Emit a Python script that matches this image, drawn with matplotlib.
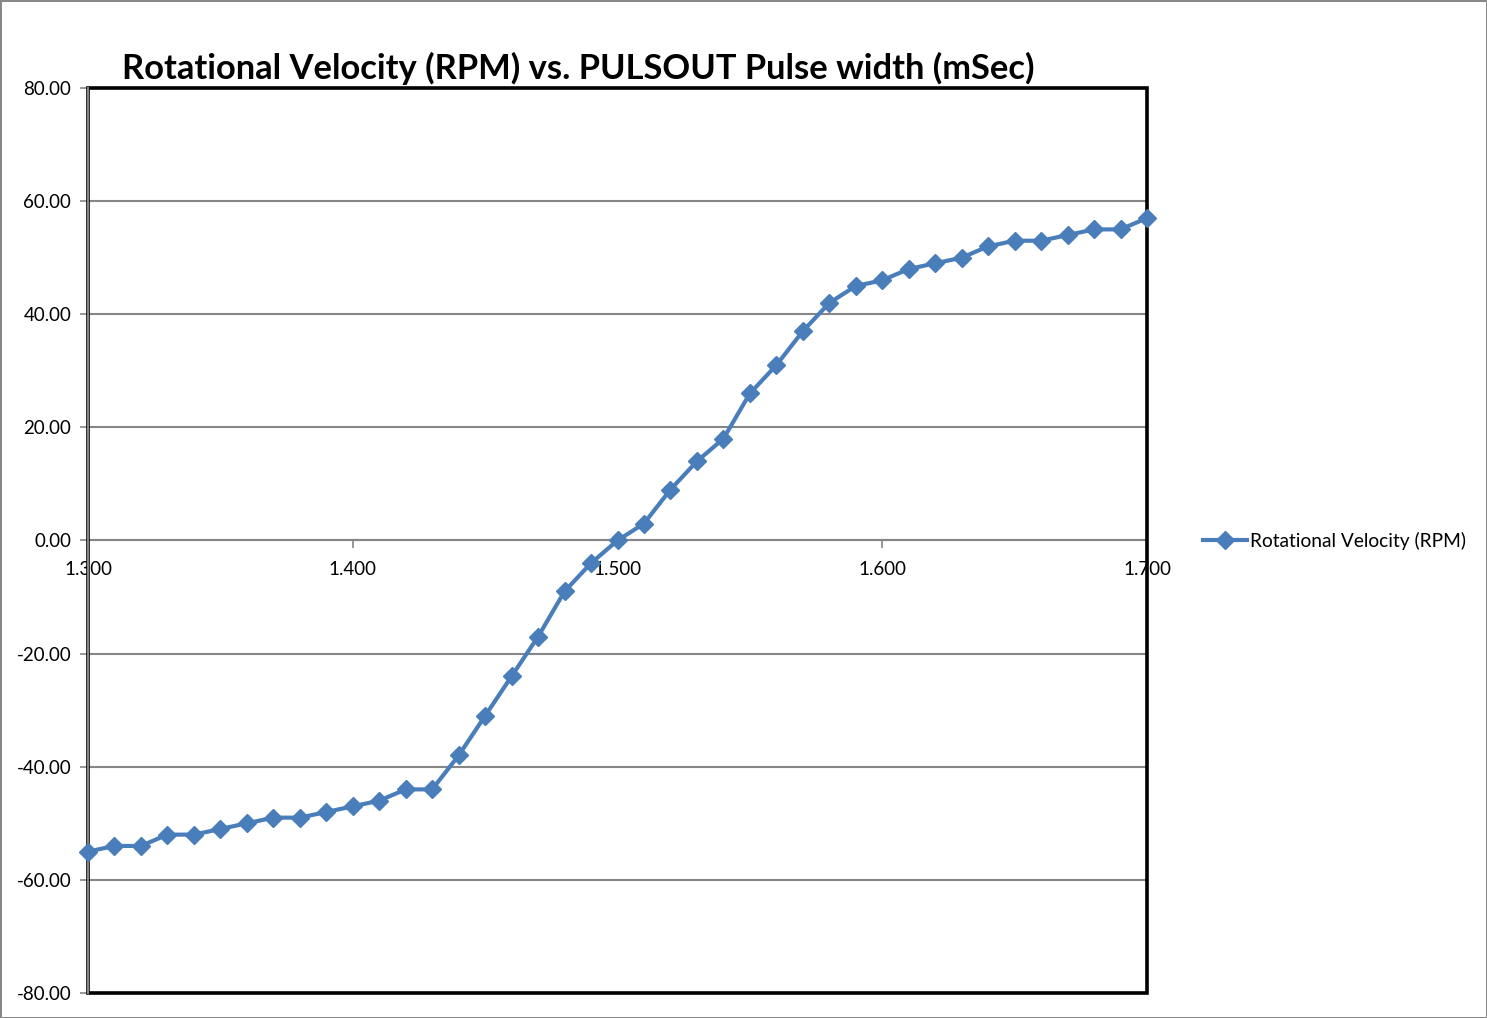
import matplotlib
matplotlib.use("Agg")
import matplotlib.pyplot as plt
from matplotlib.patches import Rectangle
from matplotlib.ticker import MultipleLocator, FormatStrFormatter

pulse_width = [1.30, 1.31, 1.32, 1.33, 1.34, 1.35, 1.36, 1.37, 1.38, 1.39,
               1.40, 1.41, 1.42, 1.43, 1.44, 1.45, 1.46, 1.47, 1.48, 1.49,
               1.50, 1.51, 1.52, 1.53, 1.54, 1.55, 1.56, 1.57, 1.58, 1.59,
               1.60, 1.61, 1.62, 1.63, 1.64, 1.65, 1.66, 1.67, 1.68, 1.69, 1.70]
rpm = [-55, -54, -54, -52, -52, -51, -50, -49, -49, -48,
       -47, -46, -44, -44, -38, -31, -24, -17, -9, -4,
       0, 3, 9, 14, 18, 26, 31, 37, 42, 45,
       46, 48, 49, 50, 52, 53, 53, 54, 55, 55, 57]
series_name = "Rotational Velocity (RPM)"
title = "Rotational Velocity (RPM) vs. PULSOUT Pulse width (mSec)"

W, H = 1487, 1018
fig = plt.figure(figsize=(W / 100, H / 100), dpi=100)
fig.patch.set_edgecolor("#888888")
fig.patch.set_linewidth(2)

left, right, top, bottom = 88, 1147, 88, 993
ax = fig.add_axes([left / W, 1 - bottom / H, (right - left) / W, (bottom - top) / H])

ax.set_xlim(1.3, 1.7)
ax.set_ylim(-80, 80)
ax.yaxis.set_major_locator(MultipleLocator(20))
ax.xaxis.set_major_locator(MultipleLocator(0.1))
ax.yaxis.set_major_formatter(FormatStrFormatter("%.2f"))
ax.xaxis.set_major_formatter(FormatStrFormatter("%.3f"))
ax.grid(axis="y", color="#868686", linewidth=1.5)
ax.set_axisbelow(True)

for s in ["top", "right"]:
    ax.spines[s].set_visible(False)
ax.spines["bottom"].set_position(("data", 0))
ax.spines["bottom"].set_color("#868686")
ax.spines["bottom"].set_linewidth(1.5)
ax.spines["left"].set_color("#868686")
ax.spines["left"].set_linewidth(1.5)
ax.spines["left"].set_zorder(4)

ax.add_patch(Rectangle((0, 0), 1, 1, transform=ax.transAxes, fill=False,
                       edgecolor="black", linewidth=2.6, zorder=3, clip_on=False))

fs = 13.5
ax.tick_params(axis="y", direction="out", length=6, width=1.2, color="#868686",
               pad=6, labelsize=fs)
ax.tick_params(axis="x", direction="out", length=6, width=1.2, color="#868686",
               pad=9, labelsize=fs)
for lbl in ax.get_xticklabels() + ax.get_yticklabels():
    lbl.set_fontfamily(["Lato", "DejaVu Sans"])

ax.plot(pulse_width, rpm, color="#4A7EBB", linewidth=3.0, marker="D",
        markersize=9.5, label=series_name, zorder=5, clip_on=False)

leg = ax.legend(loc="center left", bbox_to_anchor=(1.046, 0.5), frameon=False,
                prop=dict(family=["Lato", "DejaVu Sans"], size=13.8),
                handlelength=2.3, handletextpad=0.15, borderaxespad=0)

fig.text(578 / W, 1 - 68 / H, title, ha="center", va="center",
         fontsize=24.8, fontweight="bold", family=["Lato", "DejaVu Sans"])

fig.savefig("out.png", dpi=100)
